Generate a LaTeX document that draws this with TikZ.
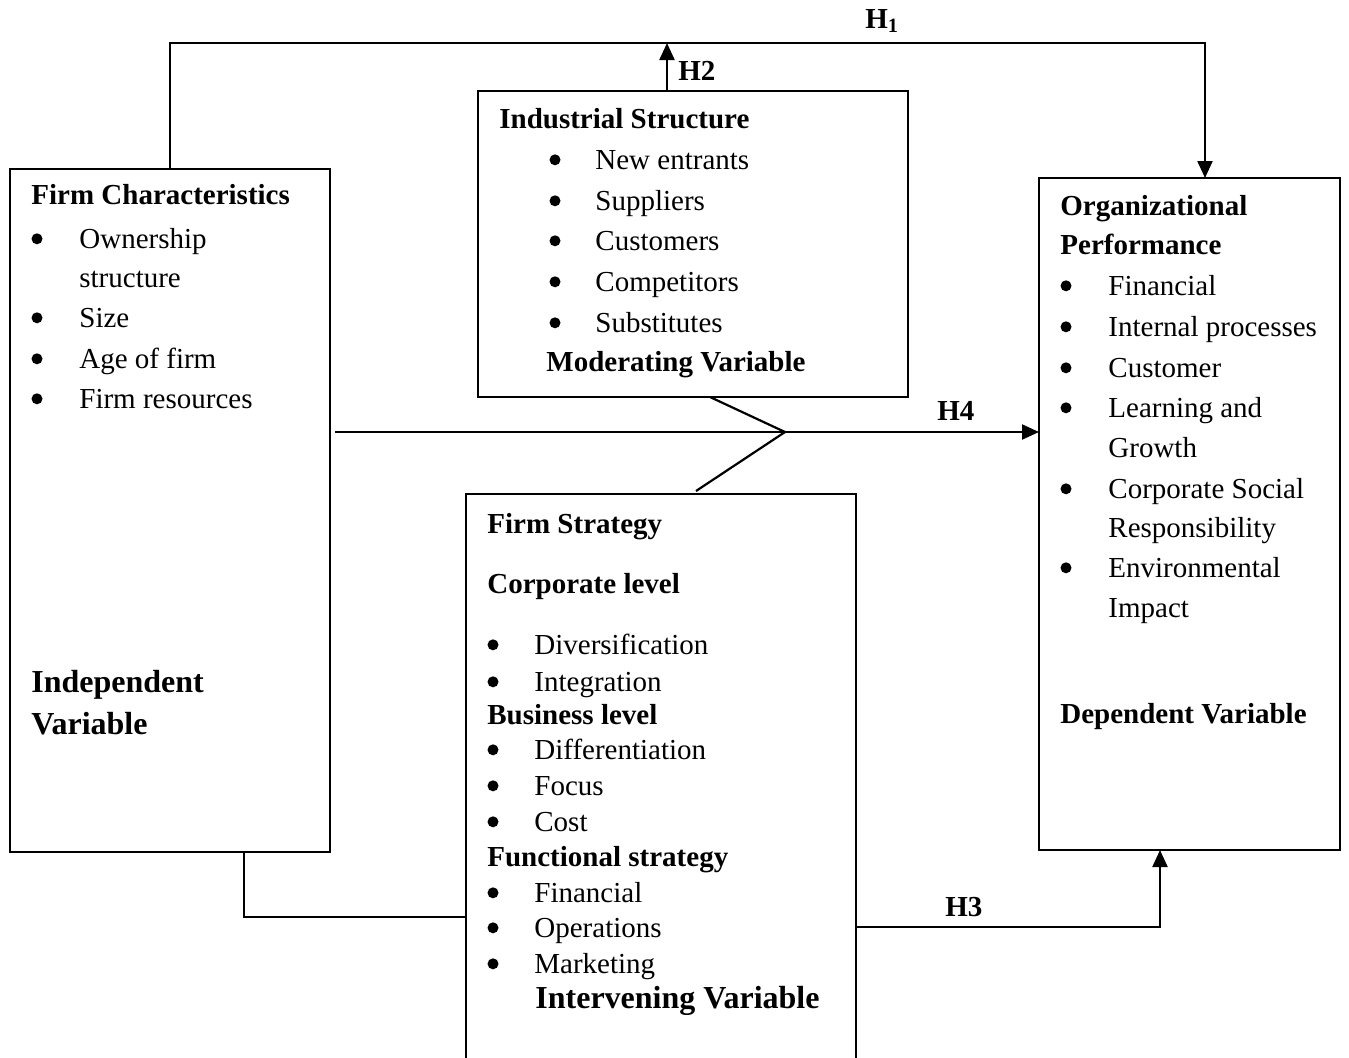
\documentclass[tikz,border=0pt]{standalone}
\usepackage{fontspec}
\setmainfont{Liberation Serif}
\usetikzlibrary{arrows.meta,calc}
\begin{document}
\begin{tikzpicture}[x=0.5pt,y=-0.5pt,
  box/.style={draw, line width=1pt, rectangle, inner sep=0pt, outer sep=0pt},
  conn/.style={line width=1.1pt},
  arr/.style={line width=1.1pt, -{Triangle[length=8.5pt,width=7.5pt]}},
  txt/.style={anchor=base west, inner sep=0pt, font=\fontsize{14.5}{17}\selectfont},
  hd/.style={anchor=base west, inner sep=0pt, font=\fontsize{14.5}{17}\selectfont\bfseries},
  big/.style={anchor=base west, inner sep=0pt, font=\fontsize{16}{19}\selectfont\bfseries},
  bul/.style={circle, fill=black, inner sep=0pt, minimum size=5.5pt, yshift=4.6pt},
  lab/.style={anchor=base west, inner sep=0pt, font=\fontsize{14.5}{17}\selectfont\bfseries}]
\fill[white] (0,0) rectangle (1349,1057);
\clip (0,0) rectangle (1349,1057);
\useasboundingbox (0,0) rectangle (1349,1057);

% boxes
\node[box, minimum width=320*0.5pt, minimum height=683*0.5pt] (fc) at (170,510.5) {};
\node[box, minimum width=430*0.5pt, minimum height=306*0.5pt] (is) at (693,244) {};
\node[box, minimum width=301*0.5pt, minimum height=672*0.5pt] (op) at (1189.5,514) {};
\node[box, minimum width=390*0.5pt, minimum height=600*0.5pt] (fs) at (661,794) {};

% coordinates
\coordinate (h1L) at (170,43);
\coordinate (h1R) at (1205,43);
\coordinate (h2t) at (667,43);
\coordinate (h4s) at (335,432);
\coordinate (junc) at (785,432);
\coordinate (blc) at (244,917);
\coordinate (h3s) at (856,927);

% connectors
\draw[arr] ($(fc.north west)+(160,0)$) -- (h1L) -- (h1R) -- ($(op.north west)+(166,0)$);
\draw[arr] ($(is.north west)+(189,0)$) -- (h2t);
\draw[arr] (h4s) -- (h4s -| op.west);
\draw[conn] ($(is.south west)+(232,0)$) -- (junc) -- ($(fs.north west)+(230,-3)$);
\draw[conn] ($(fc.south west)+(234,0)$) -- (blc) -- (blc -| fs.west);
\draw[arr] (h3s) -| ($(op.south west)+(121,0)$);

% labels
\node[lab] (lh1) at (865,28) {H\textsubscript{1}};
\node[lab] (lh2) at (678,80) {H2};
\node[lab] (lh4) at (937,420) {H4};
\node[lab] (lh3) at (945,916) {H3};

% Firm characteristics
\node[hd] (fc0) at (31,204) {Firm Characteristics};
\node[bul] (fcb1) at (37,248) {};
\node[txt] (fc1) at (79,248) {Ownership};
\node[txt] (fc1b) at (79,287) {structure};
\node[bul] (fcb2) at (37,327) {};
\node[txt] (fc2) at (79,327) {Size};
\node[bul] (fcb3) at (37,368) {};
\node[txt] (fc3) at (79,368) {Age of firm};
\node[bul] (fcb4) at (37,408) {};
\node[txt] (fc4) at (79,408) {Firm resources};
\node[big] (fc5) at (31,692) {Independent};
\node[big] (fc6) at (31,734) {Variable};

% Industrial structure
\node[hd] (is0) at (499,128) {Industrial Structure};
\node[bul] (isb1) at (555,169) {};
\node[txt] (is1) at (595,169) {New entrants};
\node[bul] (isb2) at (555,210) {};
\node[txt] (is2) at (595,210) {Suppliers};
\node[bul] (isb3) at (555,250) {};
\node[txt] (is3) at (595,250) {Customers};
\node[bul] (isb4) at (555,291) {};
\node[txt] (is4) at (595,291) {Competitors};
\node[bul] (isb5) at (555,332) {};
\node[txt] (is5) at (595,332) {Substitutes};
\node[hd] (is6) at (546,371) {Moderating Variable};

% Organizational performance
\node[hd] (op0) at (1060,215) {Organizational};
\node[hd] (op0b) at (1060,254) {Performance};
\node[bul] (opb1) at (1066,295) {};
\node[txt] (op1) at (1108,295) {Financial};
\node[bul] (opb2) at (1066,336) {};
\node[txt] (op2) at (1108,336) {Internal processes};
\node[bul] (opb3) at (1066,377) {};
\node[txt] (op3) at (1108,377) {Customer};
\node[bul] (opb4) at (1066,417) {};
\node[txt] (op4) at (1108,417) {Learning and};
\node[txt] (op4b) at (1108,457) {Growth};
\node[bul] (opb5) at (1066,498) {};
\node[txt] (op5) at (1108,498) {Corporate Social};
\node[txt] (op5b) at (1108,537) {Responsibility};
\node[bul] (opb6) at (1066,577) {};
\node[txt] (op6) at (1108,577) {Environmental};
\node[txt] (op6b) at (1108,617) {Impact};
\node[hd] (op7) at (1060,723) {Dependent Variable};

% Firm strategy
\node[hd] (fs0) at (487,533) {Firm Strategy};
\node[hd] (fs1) at (487,593) {Corporate level};
\node[bul] (fsb1) at (493,654) {};
\node[txt] (fs2) at (534,654) {Diversification};
\node[bul] (fsb2) at (493,691) {};
\node[txt] (fs3) at (534,691) {Integration};
\node[hd] (fs4) at (487,724) {Business level};
\node[bul] (fsb3) at (493,759) {};
\node[txt] (fs5) at (534,759) {Differentiation};
\node[bul] (fsb4) at (493,795) {};
\node[txt] (fs6) at (534,795) {Focus};
\node[bul] (fsb5) at (493,831) {};
\node[txt] (fs7) at (534,831) {Cost};
\node[hd] (fs8) at (487,866) {Functional strategy};
\node[bul] (fsb6) at (493,902) {};
\node[txt] (fs9) at (534,902) {Financial};
\node[bul] (fsb7) at (493,937) {};
\node[txt] (fs10) at (534,937) {Operations};
\node[bul] (fsb8) at (493,973) {};
\node[txt] (fs11) at (534,973) {Marketing};
\node[big] (fs12) at (535,1008) {Intervening Variable};
\end{tikzpicture}
\end{document}
